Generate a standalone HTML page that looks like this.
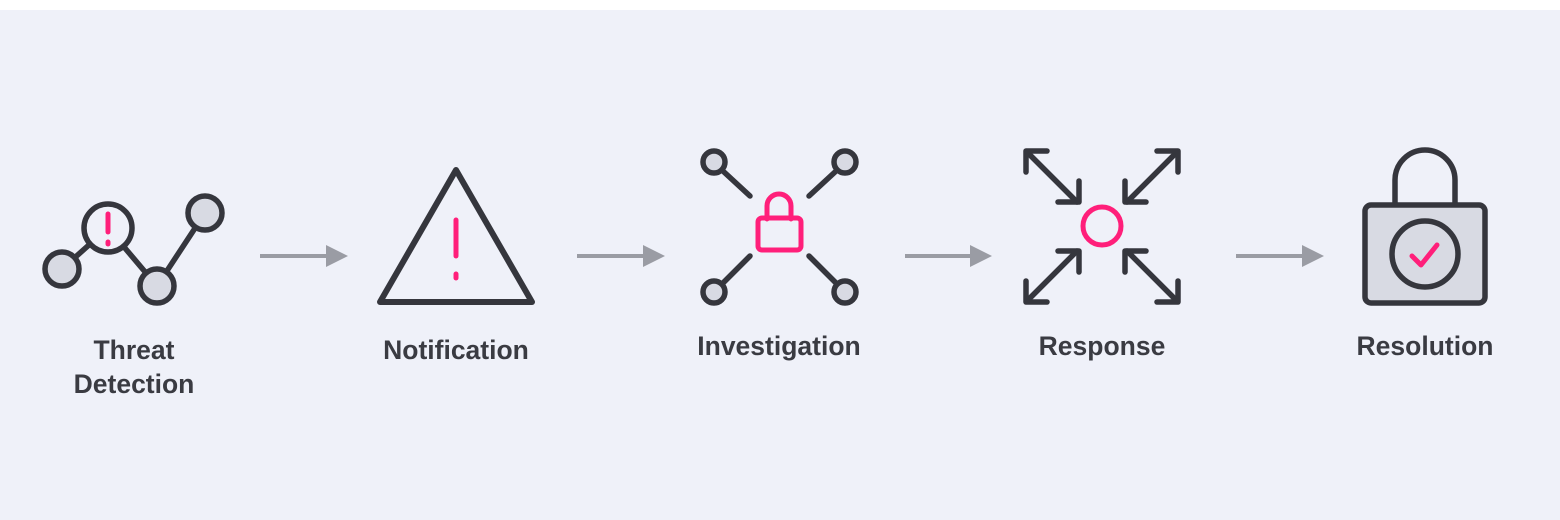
<!DOCTYPE html>
<html><head><style>
html,body{margin:0;padding:0;background:#fff;}
svg{display:block;}
text{font-family:"Liberation Sans",sans-serif;font-weight:bold;font-size:26.5px;fill:#3a3b42;text-anchor:middle;}
</style></head><body>
<svg width="1560" height="520" viewBox="0 0 1560 520">
<rect x="0" y="0" width="1560" height="520" fill="#fff"/>
<rect x="0" y="10" width="1560" height="510" fill="#eff1f9"/>
<g stroke="#35363d" stroke-width="5.5" fill="#d8dae3" stroke-linecap="round" stroke-linejoin="round">
 <line x1="62" y1="269" x2="108" y2="228"/>
 <line x1="108" y1="228" x2="157" y2="286"/>
 <line x1="157" y1="286" x2="205" y2="213"/>
 <circle cx="62" cy="269" r="17"/>
 <circle cx="157" cy="286" r="17"/>
 <circle cx="205" cy="213" r="17"/>
 <circle cx="108" cy="228" r="24" fill="#eff1f9"/>
 <path d="M456 170 L532 302 L380 302 Z" fill="none" stroke-width="6"/>
 <line x1="724" y1="172" x2="750" y2="196"/>
 <line x1="835" y1="172" x2="809" y2="196"/>
 <line x1="724" y1="282" x2="750" y2="256"/>
 <line x1="835" y1="282" x2="809" y2="256"/>
 <circle cx="714" cy="162" r="11"/>
 <circle cx="845" cy="162" r="11"/>
 <circle cx="714" cy="292" r="11"/>
 <circle cx="845" cy="292" r="11"/>
 <g fill="none">
  <line x1="1028" y1="153" x2="1077" y2="202"/>
  <polyline points="1026,172 1026,151 1047,151"/>
  <polyline points="1058,202 1079,202 1079,181"/>
  <line x1="1176" y1="153" x2="1127" y2="202"/>
  <polyline points="1157,151 1178,151 1178,172"/>
  <polyline points="1125,181 1125,202 1146,202"/>
  <line x1="1028" y1="300" x2="1077" y2="251"/>
  <polyline points="1026,281 1026,302 1047,302"/>
  <polyline points="1058,251 1079,251 1079,272"/>
  <line x1="1176" y1="300" x2="1127" y2="251"/>
  <polyline points="1157,302 1178,302 1178,281"/>
  <polyline points="1125,272 1125,251 1146,251"/>
 </g>
 <path d="M1395 207 V180 A30 30 0 0 1 1455 180 V207" fill="none"/>
 <rect x="1365" y="205" width="120" height="98" rx="6"/>
 <circle cx="1425" cy="254" r="33"/>
</g>
<g stroke="#ff1f7a" stroke-width="5" fill="none" stroke-linecap="round" stroke-linejoin="round">
 <line x1="108" y1="214" x2="108" y2="232"/>
 <line x1="108" y1="242" x2="108" y2="244"/>
 <line x1="456" y1="220" x2="456" y2="256"/>
 <line x1="456" y1="274" x2="456" y2="278"/>
 <path d="M767 219 V206 A12 12 0 0 1 791 206 V219"/>
 <rect x="758" y="218" width="43" height="32" rx="4"/>
 <circle cx="1102" cy="226" r="19"/>
 <polyline points="1412,256 1421,265 1437,245"/>
</g>
<g stroke="#9a9ca4" stroke-width="4" fill="#9a9ca4">
 <line x1="260" y1="256" x2="330" y2="256"/><path d="M326 245 L348 256 L326 267Z" stroke="none"/>
 <line x1="577" y1="256" x2="647" y2="256"/><path d="M643 245 L665 256 L643 267Z" stroke="none"/>
 <line x1="905" y1="256" x2="974" y2="256"/><path d="M970 245 L992 256 L970 267Z" stroke="none"/>
 <line x1="1236" y1="256" x2="1306" y2="256"/><path d="M1302 245 L1324 256 L1302 267Z" stroke="none"/>
</g>
<text x="134" y="359">Threat</text>
<text x="134" y="393">Detection</text>
<text x="456" y="359">Notification</text>
<text x="779" y="355">Investigation</text>
<text x="1102" y="355">Response</text>
<text x="1425" y="355">Resolution</text>
</svg>
</body></html>
